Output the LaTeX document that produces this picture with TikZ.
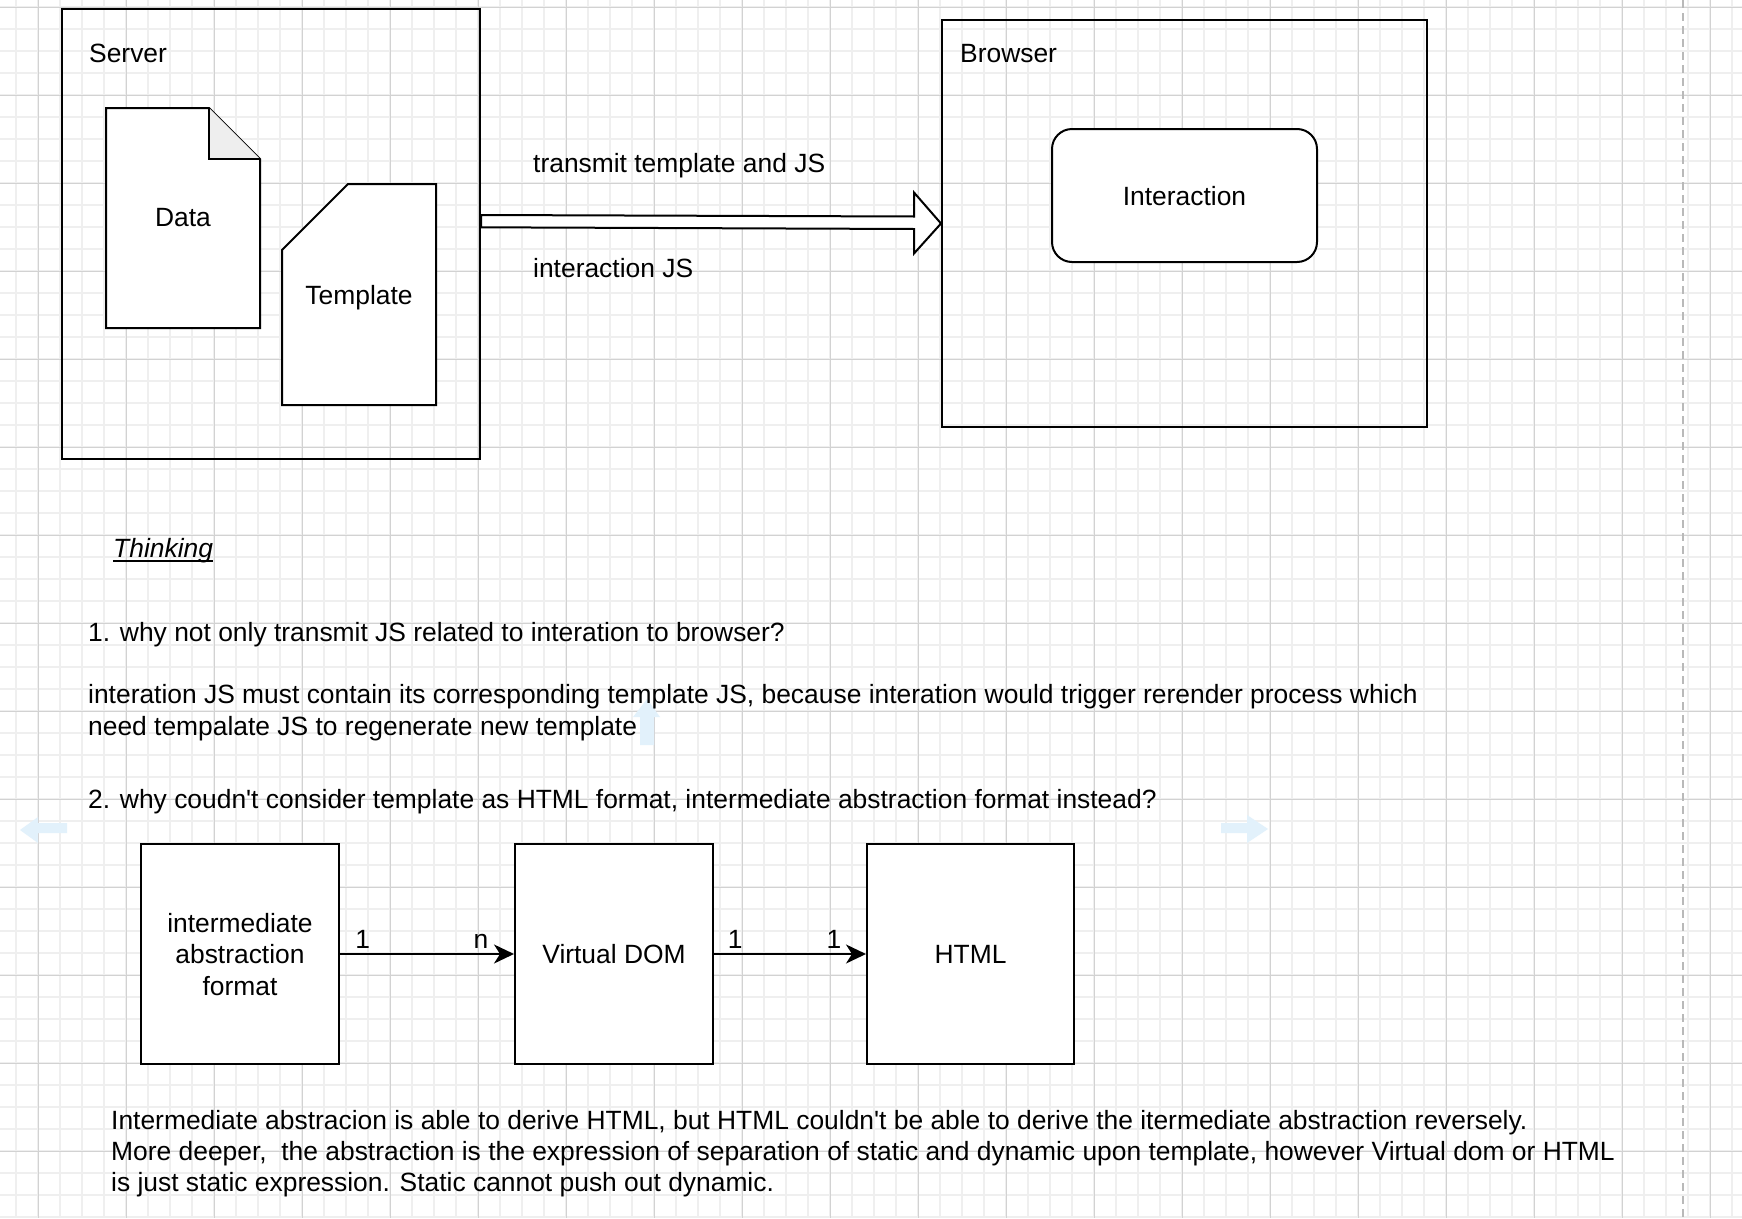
\documentclass[tikz,border=0pt]{standalone}
\usepackage{fontspec}
\setmainfont{Liberation Sans}[Ligatures=TeXOff]
\usetikzlibrary{calc,arrows.meta}
\definecolor{gridminor}{HTML}{EFEFEF}
\definecolor{gridmajor}{HTML}{D2D2D2}
\definecolor{hintblue}{HTML}{E2F1FB}
\definecolor{foldgray}{HTML}{EEEEEE}

\begin{document}
\begin{tikzpicture}[x=1pt,y=-1pt]

		\tikzstyle{every node}=[font=\fontsize{26.4}{31.5}\selectfont, inner sep=0pt]
		\tikzstyle{frame}=[draw, line width=2pt]
		\tikzstyle{box}=[draw, fill=white, line width=2pt, align=center, text depth=0pt]
		\tikzstyle{txt}=[anchor=base west]
		\tikzstyle{link}=[line width=2pt, -{Stealth[length=20pt,width=19pt,inset=6pt]}]
		\tikzstyle{hint}=[fill=hintblue]

		\useasboundingbox (0,0) rectangle (1742,1218);
		\fill[white] (0,0) rectangle (1742,1218);

		% grid
		\foreach \x in {16,38,...,1742} \draw[gridminor, line width=1.2pt] (\x,0) -- (\x,1218);
		\foreach \y in {7,29,...,1218} \draw[gridminor, line width=1.2pt] (0,\y) -- (1742,\y);
		\foreach \x in {38,126,...,1742} \draw[gridmajor, line width=1pt] (\x,0) -- (\x,1218);
		\foreach \y in {7,95,...,1218} \draw[gridmajor, line width=1pt] (0,\y) -- (1742,\y);
		\draw[gray!55, line width=1.5pt, dash pattern=on 8pt off 5pt] (1683,0) -- (1683,1218);

		% server side
		\node[frame, minimum width=418pt, minimum height=450pt] (server) at (271,234) {};
		\node[txt] (serverlbl) at (89,62) {Server};

		\draw[line width=2pt, fill=white] (106,108) -- (209,108) -- (260,159) -- (260,328) -- (106,328) -- cycle;
		\draw[line width=2pt, fill=foldgray] (209,108) -- (209,159) -- (260,159);
		\node (data) at (183,218) {Data};

		\draw[line width=2pt, fill=white] (348,184) -- (436,184) -- (436,405) -- (282,405) -- (282,250) -- cycle;
		\node[text depth=0pt] (template) at (359,295) {Template};

		% browser side
		\node[frame, minimum width=485pt, minimum height=407pt] (browser) at (1184.5,223.5) {};
		\node[txt] (browserlbl) at (960,62) {Browser};
		\node[box, rounded corners=20pt, minimum width=265pt, minimum height=133pt] (interaction) at (1184.5,195.5) {Interaction};

		\draw[line width=2pt, fill=white]
			($(server.east)+(0,-19)$) -- ($(browser.west)+(-27,-7)$) -- ($(browser.west)+(-27,-31)$)
			-- (browser.west)
			-- ($(browser.west)+(-27,30)$) -- ($(browser.west)+(-27,5.5)$) -- ($(server.east)+(0,-6.7)$) -- cycle;

		\node[txt] (transmit) at (533,172) {transmit template and JS};
		\node[txt] (interjs) at (533,277) {interaction JS};

		% hover hints
		\fill[hint] (67,823) -- (38,823) -- (38,817) -- (20,830) -- (38,843) -- (38,833) -- (67,833) -- cycle;
		\fill[hint] (1221,823) -- (1247,823) -- (1247,815) -- (1268,829) -- (1247,843) -- (1247,833) -- (1221,833) -- cycle;
		\fill[hint] (640,745) -- (640,717) -- (633,717) -- (647,699) -- (660,717) -- (654,717) -- (654,745) -- cycle;

		% thinking
		\node[txt, font=\fontsize{26.4}{31.5}\selectfont\itshape] (thinking) at (113,557) {Thinking};
		\draw[line width=1.5pt] ($(thinking.base west)+(0,4)$) -- ($(thinking.base east)+(0,4)$);

		\node[txt] (q1) at (88,641) {1. why not only transmit JS related to interation to browser?};
		\node[txt] (a1) at (88,703) {interation JS must contain its corresponding template JS, because interation would trigger rerender process which};
		\node[txt] (a1b) at (88,735) {need tempalate JS to regenerate new template};
		\node[txt] (q2) at (88,808) {2. why coudn't consider template as HTML format, intermediate abstraction format instead?};

		\node[box, minimum width=198pt, minimum height=220pt] (abstract) at (240,954) {intermediate\\abstraction\\format};
		\node[box, minimum width=198pt, minimum height=220pt] (vdom) at (614,954) {Virtual DOM};
		\node[box, minimum width=207pt, minimum height=220pt] (html) at (970.5,954) {HTML};

		\draw[link] (abstract.east) -- (vdom.west)
			node[pos=0.13, anchor=base, yshift=6pt] (one1) {1}
			node[pos=0.81, anchor=base, yshift=6pt] (many) {n};
		\draw[link] (vdom.east) -- (html.west)
			node[pos=0.14, anchor=base, yshift=6pt] (one2) {1}
			node[pos=0.79, anchor=base, yshift=6pt] (one3) {1};

		\node[txt] (note1) at (111,1129) {Intermediate abstracion is able to derive HTML, but HTML couldn't be able to derive the itermediate abstraction reversely.};
		\node[txt] (note2) at (111,1160) {More deeper,\ \ the abstraction is the expression of separation of static and dynamic upon template, however Virtual dom or HTML};
		\node[txt] (note3) at (111,1191) {is just static expression. Static cannot push out dynamic.};

\end{tikzpicture}
\end{document}
